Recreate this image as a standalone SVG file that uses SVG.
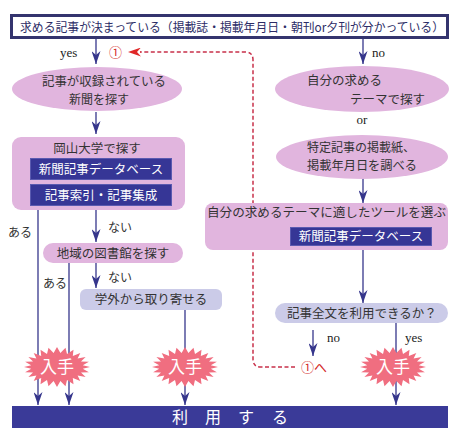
<svg xmlns="http://www.w3.org/2000/svg" xmlns:xlink="http://www.w3.org/1999/xlink" width="455" height="435" viewBox="0 0 455 435">
<style>
.jp{font-family:"Noto Sans CJK JP","Noto Sans",sans-serif;font-size:12.5px;fill:#333333}
.e{font-size:12px}
.w{fill:#ffffff}
.c{text-anchor:middle}
.lat{font-family:"Liberation Serif",serif;font-size:13px;fill:#222222}
.pink{fill:#e1b5de}
.lav{fill:#cbcbe8}
.navy{fill:#363696;stroke:#5a5ab0;stroke-width:1}
.ln{fill:none;stroke:#36368c;stroke-width:1.3}
.red{font-family:"Noto Sans CJK JP","Noto Sans",sans-serif;font-size:13px;fill:#d42a2a}
.burst{fill:#f06e80}
.big{font-family:"Noto Sans CJK JP","Noto Sans",sans-serif;font-size:17px;fill:#ffffff;text-anchor:middle}
</style>
<defs>
<marker id="ah" viewBox="0 0 13 9" refX="13" refY="4.5" markerWidth="13" markerHeight="9" markerUnits="userSpaceOnUse" orient="auto">
<path d="M0,0 L13,4.5 L0,9 L4,4.5 z" fill="#36368c"/>
</marker>
<marker id="rh" viewBox="0 0 13 9" refX="1" refY="4.5" markerWidth="13" markerHeight="9" markerUnits="userSpaceOnUse" orient="auto">
<path d="M0,0 L13,4.5 L0,9 L4,4.5 z" fill="#e02828"/>
</marker>
<polygon id="burst" class="burst" points="33,0 25.8,1.8 31.9,5.2 24,5.4 28.6,10 20.6,8.5 23.3,14.1 15.8,11.1 16.5,17.3 10,12.9 8.5,19.3 3.4,13.9 0,20 -3.4,13.9 -8.5,19.3 -10,12.9 -16.5,17.3 -15.8,11.1 -23.3,14.1 -20.6,8.5 -28.6,10 -24,5.4 -31.9,5.2 -25.8,1.8 -33,0 -25.8,-1.8 -31.9,-5.2 -24,-5.4 -28.6,-10 -20.6,-8.5 -23.3,-14.1 -15.8,-11.1 -16.5,-17.3 -10,-12.9 -8.5,-19.3 -3.4,-13.9 0,-20 3.4,-13.9 8.5,-19.3 10,-12.9 16.5,-17.3 15.8,-11.1 23.3,-14.1 20.6,-8.5 28.6,-10 24,-5.4 31.9,-5.2 25.8,-1.8"/>
</defs>
<rect width="455" height="435" fill="#ffffff"/>

<g id="connectors">
<path class="ln" d="M96,38 V64" marker-end="url(#ah)"/>
<path class="ln" d="M363,38 V64" marker-end="url(#ah)"/>
<path class="ln" d="M96,112 V134" marker-end="url(#ah)"/>
<path class="ln" d="M96,210 V242" marker-end="url(#ah)"/>
<path class="ln" d="M96,263 V288" marker-end="url(#ah)"/>
<path class="ln" d="M38,210 V405" marker-end="url(#ah)"/>
<path class="ln" d="M69,263 V405" marker-end="url(#ah)"/>
<path class="ln" d="M185,310 V405" marker-end="url(#ah)"/>
<path class="ln" d="M363,178 V203" marker-end="url(#ah)"/>
<path class="ln" d="M363,250 V303" marker-end="url(#ah)"/>
<path class="ln" d="M313,330 V356" marker-end="url(#ah)"/>
<path class="ln" d="M396,323 V405" marker-end="url(#ah)"/>
<path d="M295,367 H261 Q253,367 253,359 V60 Q253,52 245,52 H140" fill="none" stroke="#c8304a" stroke-width="1.5" stroke-dasharray="4,2.5"/>
<path d="M141,52 H140" fill="none" stroke="#e02828" stroke-width="1" marker-end="url(#rh)"/>
<text class="lat" x="60" y="57">yes</text>
<text class="lat" x="372" y="57">no</text>
<text class="lat c" x="362" y="124">or</text>
<text class="jp" x="8" y="237" style="font-size:12px">ある</text>
<text class="jp" x="43" y="288" style="font-size:12px">ある</text>
<text class="jp" x="108" y="232" style="font-size:12px">ない</text>
<text class="jp" x="108" y="282" style="font-size:12px">ない</text>
<text class="lat" x="327" y="342">no</text>
<text class="lat" x="405" y="342">yes</text>
<text class="red" x="109" y="57">①</text>
<text class="red" x="301" y="372">①へ</text>
</g>

<g id="n-top">
<rect x="11.5" y="15.5" width="436" height="22" fill="#ffffff" stroke="#34346e" stroke-width="3"/>
<text class="jp" x="20" y="31.5" style="font-size:12px;fill:#2c2c66" textLength="424" lengthAdjust="spacingAndGlyphs">求める記事が決まっている（掲載誌・掲載年月日・朝刊or夕刊が分かっている）</text>
</g>

<g id="n-kiji">
<ellipse class="pink" cx="97" cy="89" rx="85" ry="22"/>
<text class="jp e c" x="104" y="86" textLength="124" lengthAdjust="spacingAndGlyphs">記事が収録されている</text>
<text class="jp e c" x="99" y="104">新聞を探す</text>
</g>

<g id="n-jibun">
<ellipse class="pink" cx="362" cy="89" rx="87" ry="23"/>
<text class="jp" x="307" y="85">自分の求める</text>
<text class="jp" x="350" y="103.5">テーマで探す</text>
</g>

<g id="n-okayama">
<rect class="pink" x="12" y="137" width="173" height="73" rx="9"/>
<text class="jp c" x="97" y="153">岡山大学で探す</text>
<rect class="navy" x="30.5" y="158.5" width="141" height="21"/>
<text class="jp w c" x="101" y="174">新聞記事データベース</text>
<rect class="navy" x="30.5" y="184.5" width="141" height="21"/>
<text class="jp w c" x="101" y="200">記事索引・記事集成</text>
</g>

<g id="n-tokutei">
<ellipse class="pink" cx="362" cy="157" rx="86" ry="22"/>
<text class="jp e" x="307" y="152" textLength="108" lengthAdjust="spacingAndGlyphs">特定記事の掲載紙、</text>
<text class="jp e" x="307" y="170" textLength="110" lengthAdjust="spacingAndGlyphs">掲載年月日を調べる</text>
</g>

<g id="n-tool">
<rect class="pink" x="205" y="203" width="243" height="47" rx="8"/>
<text class="jp" x="207" y="217" textLength="239" lengthAdjust="spacingAndGlyphs">自分の求めるテーマに適したツールを選ぶ</text>
<rect class="navy" x="290.5" y="227.5" width="141" height="18"/>
<text class="jp w c" x="361" y="241">新聞記事データベース</text>
</g>

<g id="n-chiiki">
<rect class="pink" x="43" y="243" width="140" height="20" rx="10"/>
<text class="jp c" x="113" y="258">地域の図書館を探す</text>
</g>

<g id="n-gakugai">
<rect class="lav" x="80" y="289" width="142" height="21" rx="6"/>
<text class="jp c" x="151" y="304">学外から取り寄せる</text>
</g>

<g id="n-zenbun">
<rect class="lav" x="275" y="303" width="173" height="20" rx="10"/>
<text class="jp c" x="362" y="318">記事全文を利用できるか？</text>
</g>

<g id="n-nyushu1">
<use xlink:href="#burst" x="57" y="367"/>
<text class="big" x="57" y="373">入手</text>
</g>
<g id="n-nyushu2">
<use xlink:href="#burst" x="185" y="367"/>
<text class="big" x="185" y="373">入手</text>
</g>
<g id="n-nyushu3">
<use xlink:href="#burst" x="393" y="367"/>
<text class="big" x="393" y="373">入手</text>
</g>

<g id="n-riyou">
<rect x="12" y="406" width="436" height="22" fill="#3a3a98"/>
<text x="172 205 238 272" y="423" style="font-family:'Noto Sans CJK JP','Noto Sans',sans-serif;font-size:16px;fill:#ffffff">利用する</text>
</g>
</svg>
